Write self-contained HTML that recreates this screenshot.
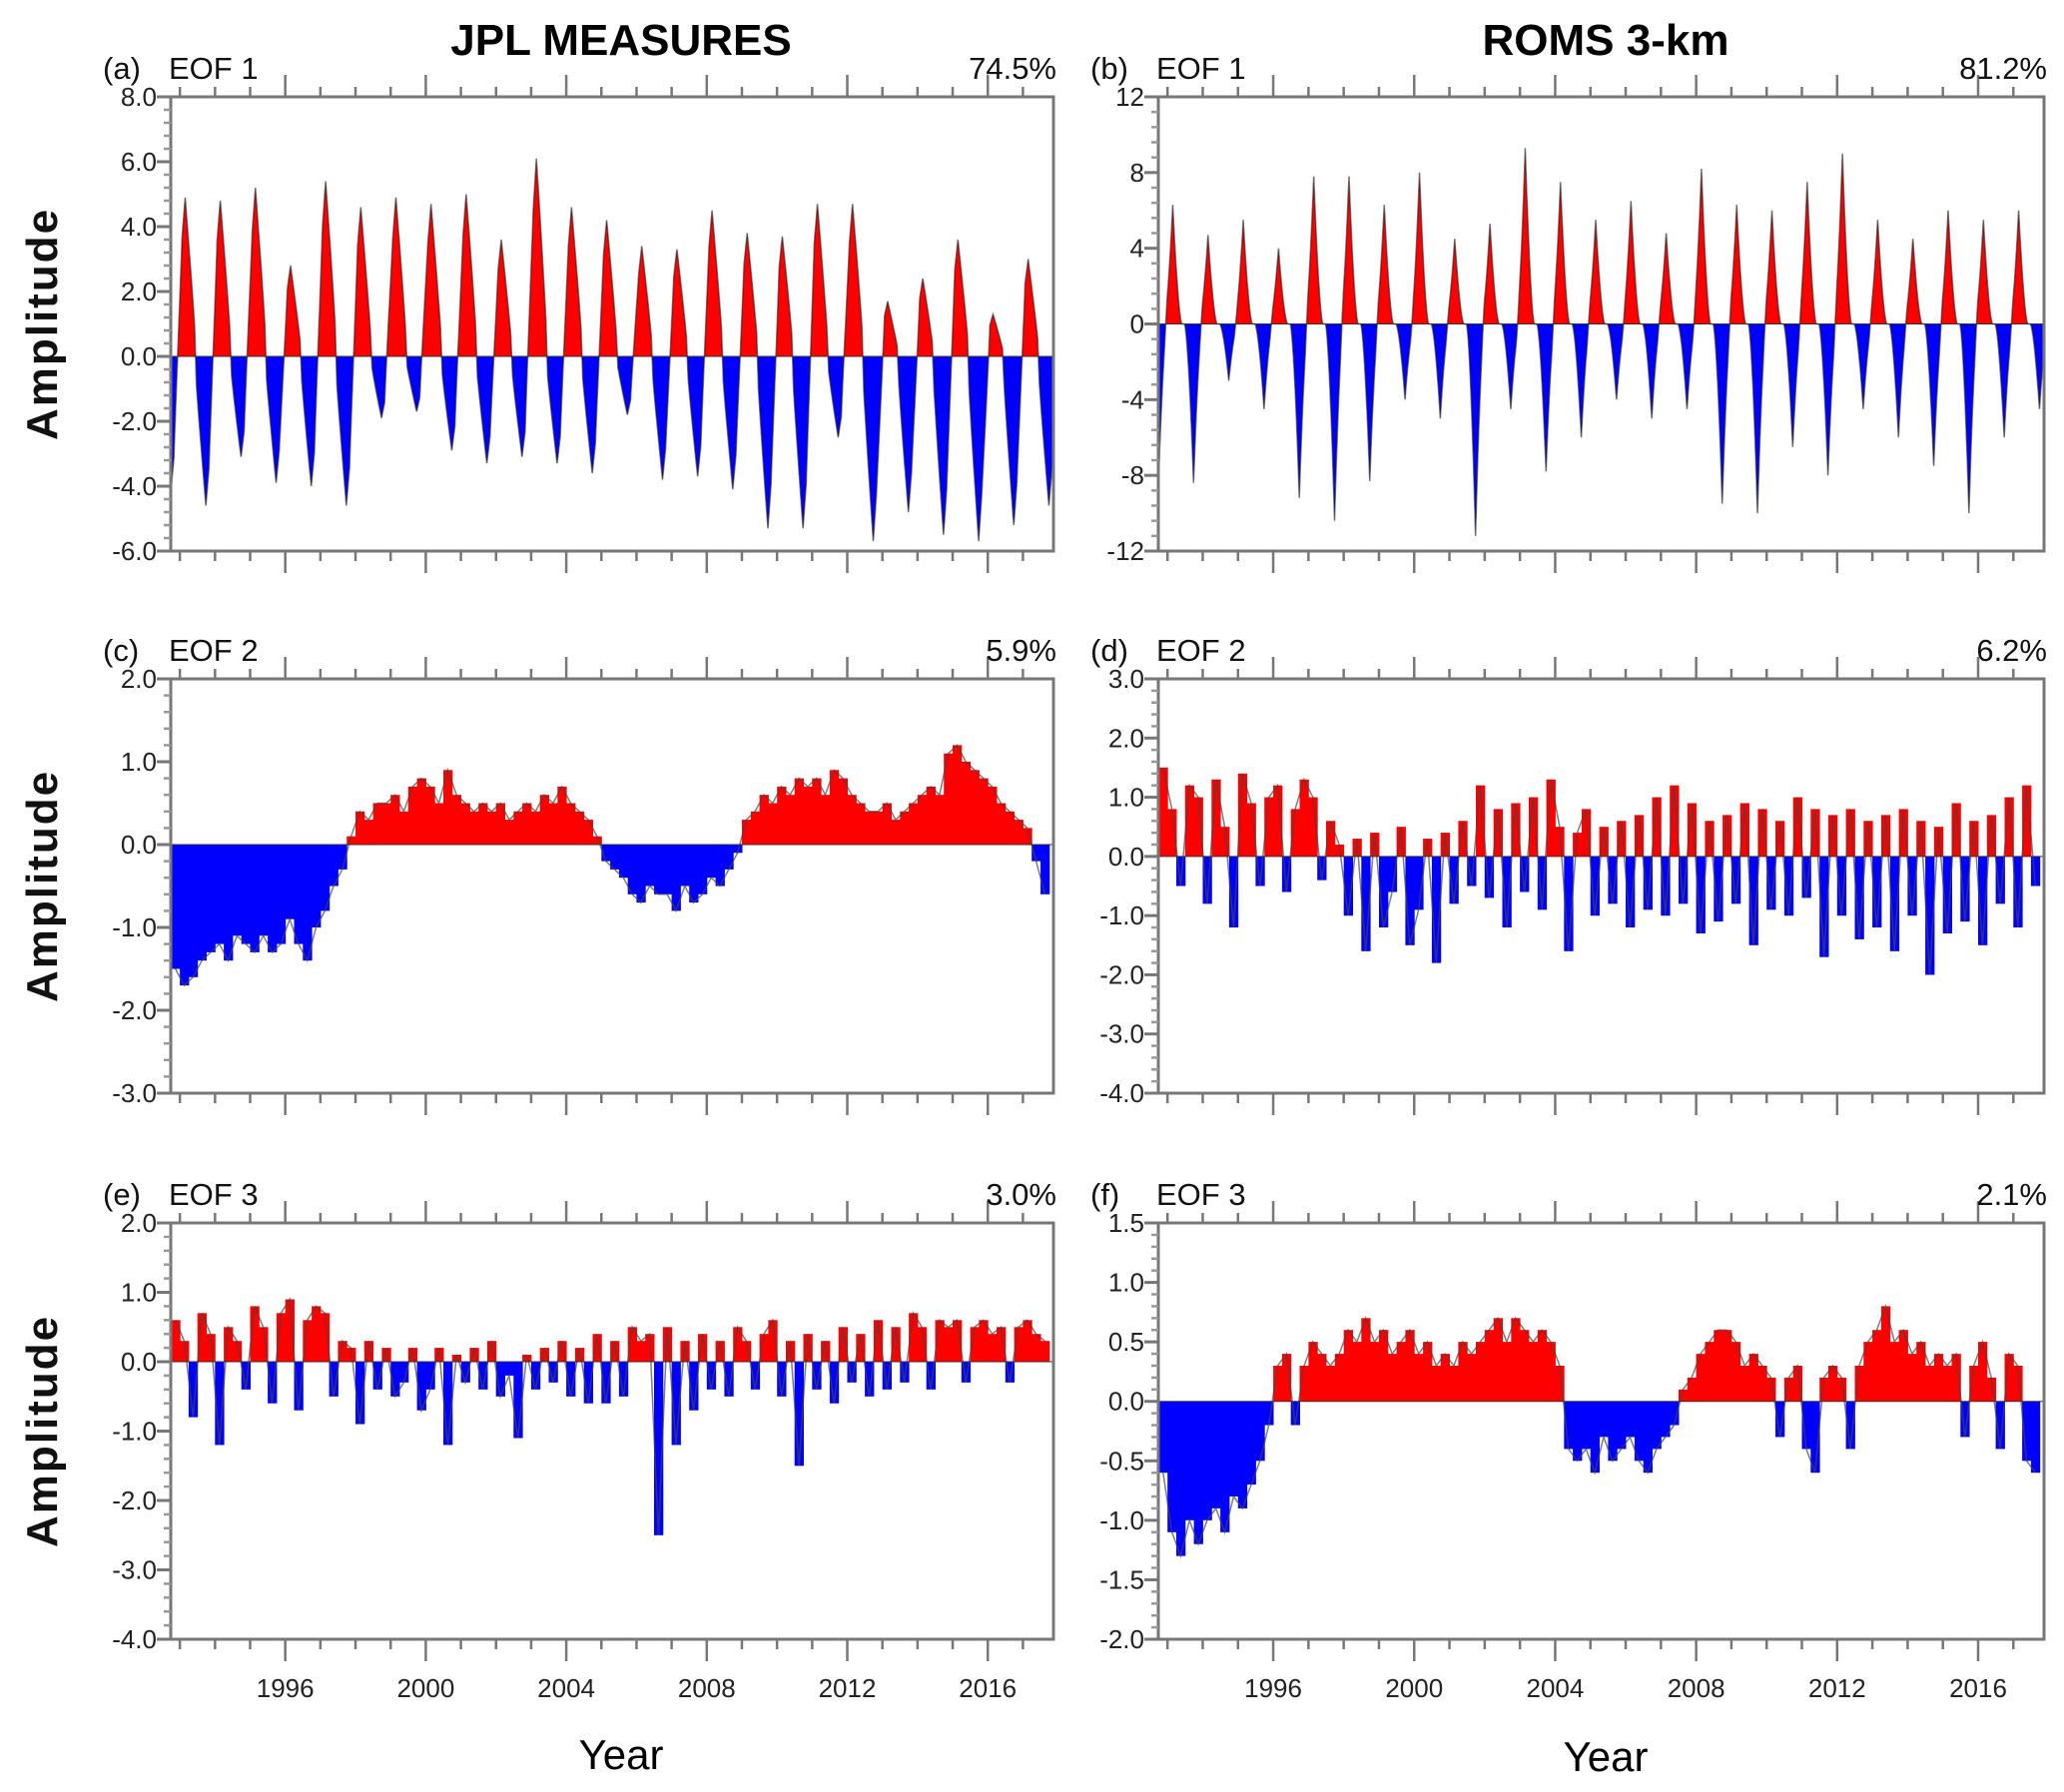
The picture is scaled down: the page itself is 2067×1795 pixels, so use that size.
<!DOCTYPE html>
<html><head><meta charset="utf-8">
<style>
html,body{margin:0;padding:0;background:#fff;}
svg{display:block;font-family:"Liberation Sans",Arial,sans-serif;}
</style></head>
<body>
<svg id="fig" width="2067" height="1795" viewBox="0 0 2067 1795" xmlns="http://www.w3.org/2000/svg">
<text x="622" y="55" text-anchor="middle" font-size="44" font-weight="bold">JPL MEASURES</text>
<text x="1608" y="55" text-anchor="middle" font-size="44" font-weight="bold">ROMS 3-km</text>
<text x="622" y="1772" text-anchor="middle" font-size="42">Year</text>
<text x="1608" y="1774" text-anchor="middle" font-size="42">Year</text>
</svg>
<script>
// ---- data ----
// Panel (a) JPL EOF1: seasonal positive peaks (1993..2017) and troughs (1992..2017)
const aPeaks = [4.9,4.8,5.2,2.8,5.4,4.6,4.9,4.7,5.0,3.6,6.1,4.6,4.2,3.4,3.3,4.5,3.8,3.7,4.7,4.7,1.7,2.4,3.6,1.3,3.0];
const aTroughs = [-4.2,-4.6,-3.1,-3.9,-4.0,-4.6,-1.9,-1.7,-2.9,-3.3,-3.1,-3.3,-3.6,-1.8,-3.8,-3.7,-4.1,-5.3,-5.3,-2.5,-5.7,-4.8,-5.5,-5.7,-5.2,-4.6];
// Panel (b) ROMS EOF1
const bPeaks = [6.3,4.7,5.5,4.0,7.8,7.8,6.3,8.0,4.5,5.3,9.3,7.5,5.5,6.5,4.8,8.2,6.3,6.0,7.5,9.0,5.5,4.5,6.0,5.5,6.0];
const bTroughs = [-8.6,-8.4,-3.0,-4.5,-9.2,-10.4,-8.3,-4.0,-5.0,-11.2,-4.5,-7.8,-6.0,-4.0,-5.0,-4.5,-9.5,-10.0,-6.5,-8.0,-4.5,-6.0,-7.5,-10.0,-6.0,-4.5];
// Quarterly series from 1992.75
const cVals = [-1.5,-1.7,-1.6,-1.4,-1.3,-1.2,-1.4,-1.1,-1.2,-1.3,-1.1,-1.3,-1.2,-0.9,-1.2,-1.4,-1.0,-0.8,-0.5,-0.3,0.1,0.4,0.3,0.5,0.5,0.6,0.4,0.7,0.8,0.7,0.5,0.9,0.6,0.5,0.4,0.5,0.4,0.5,0.3,0.4,0.5,0.4,0.6,0.5,0.7,0.5,0.4,0.3,0.1,-0.2,-0.3,-0.4,-0.6,-0.7,-0.5,-0.6,-0.6,-0.8,-0.5,-0.7,-0.6,-0.4,-0.5,-0.3,-0.1,0.3,0.4,0.6,0.5,0.7,0.6,0.8,0.7,0.8,0.6,0.9,0.8,0.6,0.5,0.4,0.4,0.5,0.3,0.4,0.5,0.6,0.7,0.6,1.1,1.2,1.0,0.9,0.8,0.7,0.5,0.4,0.3,0.2,-0.2,-0.6];
const dVals = [1.5,0.8,-0.5,1.2,1.0,-0.8,1.3,0.5,-1.2,1.4,0.9,-0.5,1.0,1.2,-0.6,0.8,1.3,1.0,-0.4,0.6,0.2,-1.0,0.3,-1.6,0.4,-1.2,-0.6,0.5,-1.5,-0.9,0.3,-1.8,0.4,-0.8,0.6,-0.5,1.2,-0.7,0.8,-1.2,0.9,-0.6,1.0,-0.9,1.3,0.5,-1.6,0.4,0.8,-1.0,0.5,-0.8,0.6,-1.2,0.7,-0.9,1.0,-1.0,1.2,-0.8,0.9,-1.3,0.6,-1.1,0.7,-0.8,0.9,-1.5,0.8,-0.9,0.6,-1.0,1.0,-0.7,0.8,-1.7,0.7,-1.0,0.8,-1.4,0.6,-1.2,0.7,-1.6,0.8,-1.0,0.6,-2.0,0.5,-1.3,0.9,-1.1,0.6,-1.5,0.7,-0.8,1.0,-1.2,1.2,-0.5];
const eVals = [0.6,0.3,-0.8,0.7,0.4,-1.2,0.5,0.3,-0.4,0.8,0.5,-0.6,0.7,0.9,-0.7,0.6,0.8,0.7,-0.5,0.3,0.2,-0.9,0.3,-0.4,0.2,-0.5,-0.3,0.2,-0.7,-0.4,0.2,-1.2,0.1,-0.3,0.2,-0.4,0.3,-0.5,-0.2,-1.1,0.1,-0.4,0.2,-0.3,0.3,-0.5,0.2,-0.6,0.4,-0.6,0.3,-0.5,0.5,0.3,0.4,-2.5,0.5,-1.2,0.3,-0.7,0.4,-0.4,0.3,-0.5,0.5,0.3,-0.4,0.4,0.6,-0.5,0.3,-1.5,0.4,-0.4,0.3,-0.6,0.5,-0.3,0.4,-0.5,0.6,-0.4,0.5,-0.3,0.7,0.5,-0.4,0.6,0.5,0.6,-0.3,0.5,0.6,0.4,0.5,-0.3,0.5,0.6,0.4,0.3];
const fVals = [-0.6,-1.1,-1.3,-1.0,-1.2,-1.0,-0.9,-1.1,-0.8,-0.9,-0.7,-0.5,-0.2,0.3,0.4,-0.2,0.3,0.5,0.4,0.3,0.4,0.6,0.5,0.7,0.5,0.6,0.4,0.5,0.6,0.4,0.5,0.3,0.4,0.3,0.5,0.4,0.5,0.6,0.7,0.5,0.7,0.6,0.5,0.6,0.5,0.3,-0.4,-0.5,-0.4,-0.6,-0.3,-0.5,-0.4,-0.3,-0.5,-0.6,-0.4,-0.3,-0.2,0.1,0.2,0.4,0.5,0.6,0.6,0.5,0.3,0.4,0.3,0.2,-0.3,0.2,0.3,-0.4,-0.6,0.2,0.3,0.2,-0.4,0.3,0.5,0.6,0.8,0.5,0.6,0.4,0.5,0.3,0.4,0.3,0.4,-0.3,0.3,0.5,0.2,-0.4,0.4,0.3,-0.5,-0.6];
const yearTicks = [1996,2000,2004,2008,2012,2016];
const aTicks = ["8.0","6.0","4.0","2.0","0.0","-2.0","-4.0","-6.0"];
const bTicks = ["12","8","4","0","-4","-8","-12"];
const cTicks = ["2.0","1.0","0.0","-1.0","-2.0","-3.0"];
const dTicks = ["3.0","2.0","1.0","0.0","-1.0","-2.0","-3.0","-4.0"];
const eTicks = ["2.0","1.0","0.0","-1.0","-2.0","-3.0","-4.0"];
const fTicks = ["1.5","1.0","0.5","0.0","-0.5","-1.0","-1.5","-2.0"];

const NS="http://www.w3.org/2000/svg";
const svg=document.getElementById('fig');
const T0=1992.74, T1=2017.87;
function mk(tag,attrs,parent){const e=document.createElementNS(NS,tag);for(const k in attrs)e.setAttribute(k,attrs[k]);(parent||svg).appendChild(e);return e;}

const rows=[[97,552],[680,1095],[1225,1642]];
const cols=[[171,1055],[1160,2047]];
const panels=[
 {id:'a',col:0,row:0,ticks:aTicks,eof:'EOF 1',pct:'74.5%',type:'lobe',peaks:aPeaks,troughs:aTroughs,w:0.32,ex:0.9},
 {id:'b',col:1,row:0,ticks:bTicks,eof:'EOF 1',pct:'81.2%',type:'lobe',peaks:bPeaks,troughs:bTroughs,w:0.26,ex:1.6},
 {id:'c',col:0,row:1,ticks:cTicks,eof:'EOF 2',pct:'5.9%',type:'q',vals:cVals},
 {id:'d',col:1,row:1,ticks:dTicks,eof:'EOF 2',pct:'6.2%',type:'q',vals:dVals},
 {id:'e',col:0,row:2,ticks:eTicks,eof:'EOF 3',pct:'3.0%',type:'q',vals:eVals},
 {id:'f',col:1,row:2,ticks:fTicks,eof:'EOF 3',pct:'2.1%',type:'q',vals:fVals},
];

panels.forEach(p=>{
  const [x0,x1]=cols[p.col],[y0,y1]=rows[p.row];
  const ymax=parseFloat(p.ticks[0]), ymin=parseFloat(p.ticks[p.ticks.length-1]);
  const X=t=>x0+(t-T0)/(T1-T0)*(x1-x0);
  const Y=v=>y0+(ymax-v)/(ymax-ymin)*(y1-y0);
  const g=mk('g',{});
  
  
  const clipId='clip'+p.id;
  const cp=mk('clipPath',{id:clipId},g); mk('rect',{x:x0,y:y0,width:x1-x0,height:y1-y0},cp);
  const dg=mk('g',{'clip-path':'url(#'+clipId+')'},g);
  const zy=Y(0);
  if(p.type==='lobe'){
    const val=t=>{let s=0;p.peaks.forEach((a,i)=>{const c=1993+i+0.15,d=Math.abs(t-c)/p.w;if(d<1)s+=a*Math.pow(1-d,p.ex);});
      p.troughs.forEach((a,i)=>{const c=1992+i+0.74,d=Math.abs(t-c)/p.w;if(d<1)s+=a*Math.pow(1-d,p.ex);});return s;};
    let pos='M'+X(T0)+' '+zy, neg='M'+X(T0)+' '+zy, line='';
    for(let t=T0;t<=T1+0.01;t+=0.01){const v=val(t);const x=X(t).toFixed(1);
      pos+=' L'+x+' '+Y(Math.max(v,0)).toFixed(1);neg+=' L'+x+' '+Y(Math.min(v,0)).toFixed(1);
      line+=(line?' L':'M')+x+' '+Y(v).toFixed(1);}
    pos+=' L'+X(T1)+' '+zy+' Z';neg+=' L'+X(T1)+' '+zy+' Z';
    const pp=mk('path',{d:pos,fill:'#ff0000'},dg);
    
    
    const np=mk('path',{d:neg,fill:'#0000ff'},dg);
    
    
    const lp=mk('path',{d:line,fill:'none',stroke:'#222','stroke-width':1.5,opacity:0.6},dg);
    
    
  } else {
    let line='';
    p.vals.forEach((v,i)=>{
      const t=1992.75+i*0.25;
      const xa=X(t),xb=X(t+0.25);
      const r=mk('rect',{x:xa.toFixed(1),y:Math.min(Y(v),zy).toFixed(1),width:(xb-xa+0.5).toFixed(1),height:Math.abs(Y(v)-zy).toFixed(1),fill:v>=0?'#ff0000':'#0000ff'},dg);
      
      
      line+=(line?' L':'M')+((xa+xb)/2).toFixed(1)+' '+Y(v).toFixed(1);
    });
    const lp=mk('path',{d:line,fill:'none',stroke:'#444','stroke-width':1.5,opacity:0.7},dg);
    
    
  }
  mk('line',{x1:x0,x2:x1,y1:zy,y2:zy,stroke:'#333','stroke-width':1},g);
  const fr=mk('rect',{x:x0,y:y0,width:x1-x0,height:y1-y0,fill:'none',stroke:'#777','stroke-width':3},g);
  
  
  const n=p.ticks.length;
  p.ticks.forEach((lab,i)=>{
    const v=parseFloat(lab),y=Y(v);
    mk('line',{x1:x0-14,x2:x0,y1:y,y2:y,stroke:'#777','stroke-width':3},g);
    const tx=mk('text',{x:x0-14,y:y+9,'text-anchor':'end','font-size':26,fill:'#222'},g);
    tx.textContent=lab;
    
    
    if(i<n-1){const step=(parseFloat(p.ticks[i])-parseFloat(p.ticks[i+1]))/5;
      for(let k=1;k<5;k++){const yy=Y(v-step*k);mk('line',{x1:x0-7,x2:x0,y1:yy,y2:yy,stroke:'#999','stroke-width':2.5},g);}}
  });
  for(let yr=1993;yr<=2017;yr++){
    const major=yr%4===0,x=X(yr),L=major?22:10;
    mk('line',{x1:x,x2:x,y1:y1,y2:y1+L,stroke:'#777','stroke-width':2.5},g);
    mk('line',{x1:x,x2:x,y1:y0,y2:y0-L,stroke:'#777','stroke-width':2.5},g);
  }
  if(p.row===2){
    yearTicks.forEach(yr=>{
      const tx=mk('text',{x:X(yr),y:y1+58,'text-anchor':'middle','font-size':26,fill:'#222'},g);
      tx.textContent=yr;
      
      
    });
  }
  const lt=mk('text',{x:x0-68,y:y0-18,'font-size':31,fill:'#111'},g);
  lt.textContent='('+p.id+')';
  
  
  const et=mk('text',{x:x0-2,y:y0-18,'font-size':31,fill:'#111'},g);
  et.textContent=p.eof;
  
  
  const pt=mk('text',{x:x1+3,y:y0-18,'text-anchor':'end','font-size':31,fill:'#111'},g);
  pt.textContent=p.pct;
  
  
  if(p.col===0){
    const cy=(y0+y1)/2;
    const at=mk('text',{x:0,y:0,transform:'translate(57,'+cy+') rotate(-90)','text-anchor':'middle','font-size':44,'font-weight':'bold','letter-spacing':'2',fill:'#111'},g);
    at.textContent='Amplitude';
    
    
  }
});
</script>
</body></html>
